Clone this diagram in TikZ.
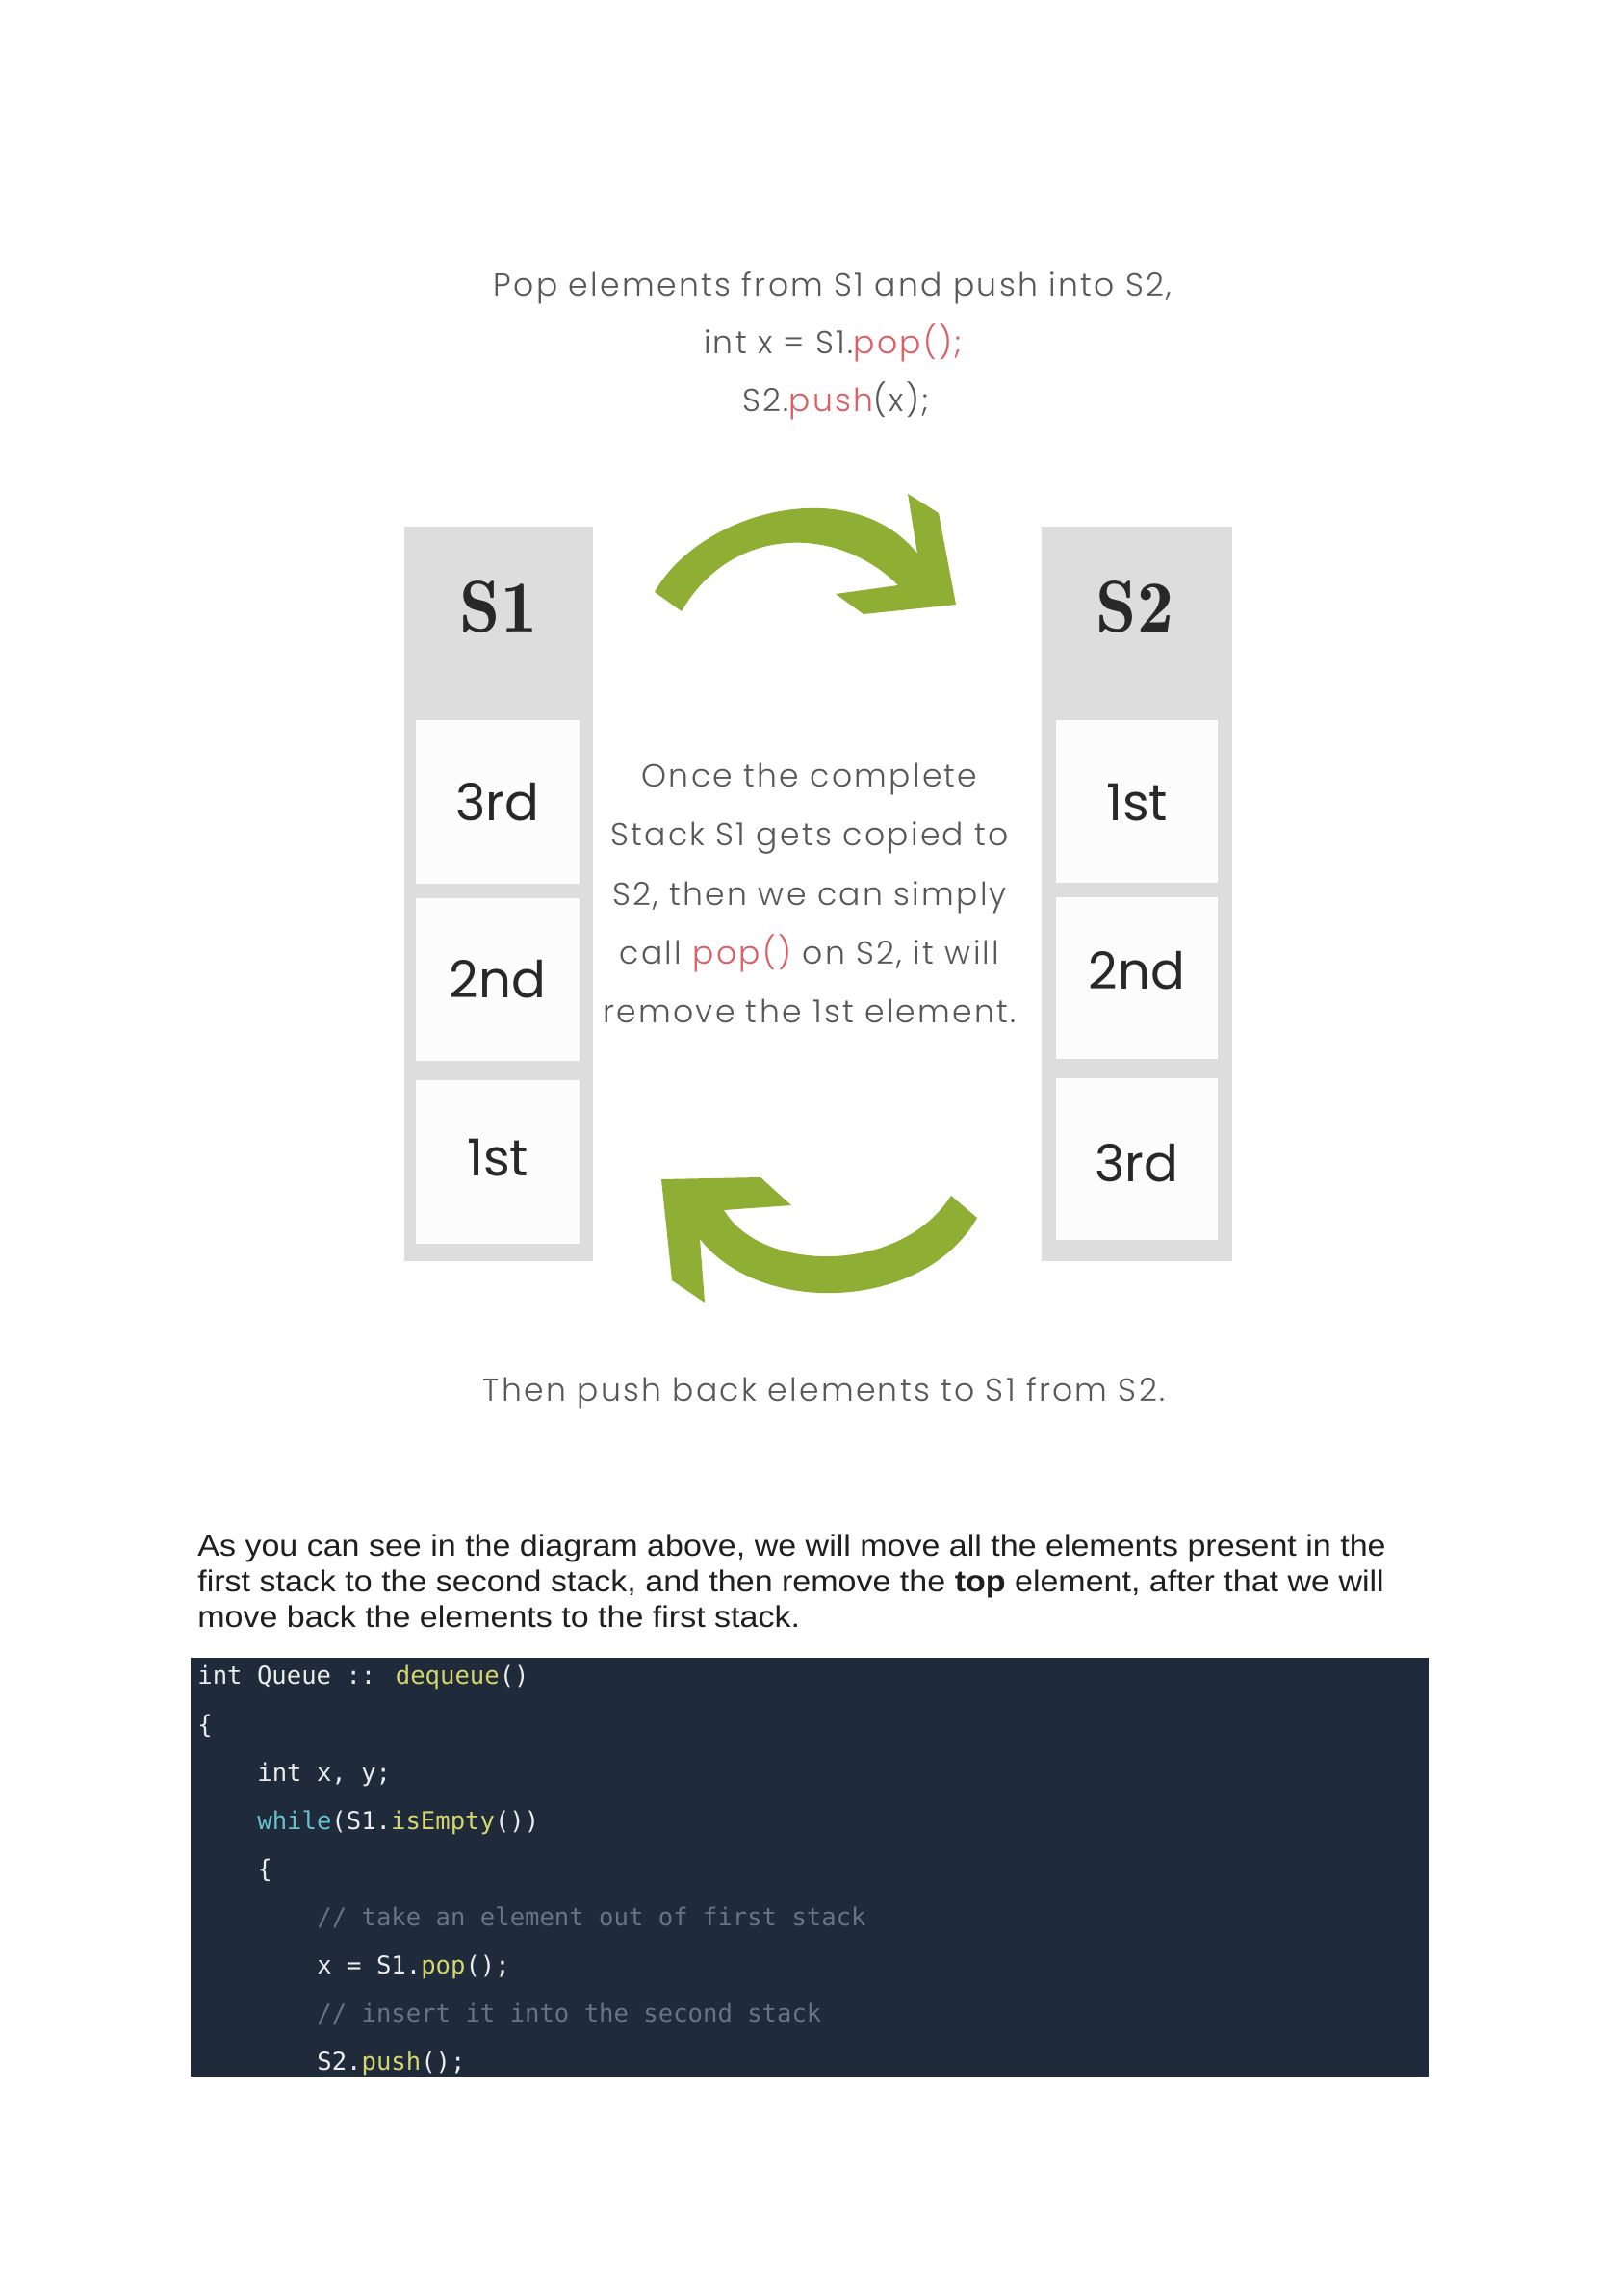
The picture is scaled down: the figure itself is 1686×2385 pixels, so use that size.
\documentclass[tikz,border=0pt]{standalone}
\usepackage{fontspec}
\newfontfamily\arialf{Liberation Sans}[FakeStretch=1.09]
\newfontfamily\josf{Poppins Light}[LetterSpace=7]
\newfontfamily\josr{Poppins}
\newfontfamily\codef{DejaVu Sans Mono}
\newfontfamily\lmdemi{lmromandemi10-regular.otf}
\definecolor{colgray}{RGB}{221,221,221}
\definecolor{boxwhite}{RGB}{252,252,252}
\definecolor{arrowgreen}{RGB}{143,174,52}
\definecolor{popred}{RGB}{222,92,98}
\definecolor{txtgray}{RGB}{88,88,88}
\definecolor{darktxt}{RGB}{40,40,40}
\definecolor{codebg}{RGB}{31,42,58}
\definecolor{codefg}{RGB}{236,236,236}
\definecolor{codeyel}{RGB}{214,214,110}
\definecolor{codecyan}{RGB}{102,194,205}
\definecolor{codecom}{RGB}{104,116,128}
\begin{document}
\begin{tikzpicture}[x=0.5pt,y=-0.5pt,
  hdr/.style={anchor=base,inner sep=0pt,text=txtgray,font=\josf\fontsize{16.5}{19}\selectfont},
  column/.style={fill=colgray,draw=none},
  cell/.style={fill=boxwhite,draw=none},
  celltxt/.style={anchor=center,inner sep=0pt,text=darktxt,font=\josr\fontsize{26.5}{30}\selectfont},
  stacklbl/.style={anchor=center,inner sep=0pt,text=darktxt,font=\lmdemi\fontsize{38}{40}\selectfont},
  para/.style={anchor=base west,inner sep=0pt,text=black!88,font=\arialf\fontsize{15.6}{18}\selectfont},
  code/.style={anchor=base west,inner sep=0pt,text=codefg,font=\codef\fontsize{12.8}{15}\selectfont},
  bigarrow/.style={fill=arrowgreen,draw=none}
]
\useasboundingbox (0,0) rectangle (1686,2385);
\fill[white] (0,0) rectangle (1686,2385);

% header
\node[hdr] (h1) at (865,308) {Pop elements from S1 and push into S2,};
\node[hdr] (h2) at (865,368) {int x = S1.\textcolor{popred}{pop();}};
\node[hdr] (h3) at (868,428) {S2.\textcolor{popred}{push}(x);};

% stacks
\fill[column] (420,547) rectangle (616,1310);
\fill[column] (1082,547) rectangle (1280,1310);
\fill[cell] (432,748) rectangle (602,918);
\fill[cell] (432,933) rectangle (602,1102);
\fill[cell] (432,1122) rectangle (602,1292);
\fill[cell] (1097,748) rectangle (1265,917);
\fill[cell] (1097,932) rectangle (1265,1100);
\fill[cell] (1097,1120) rectangle (1265,1288);

\node[stacklbl] (s1) at (518,630) {S1};
\node[stacklbl] (s2) at (1179,630) {S2};
\node[celltxt] (a3) at (517,833) {3rd};
\node[celltxt] (a2) at (517,1017) {2nd};
\node[celltxt] (a1) at (517,1203) {1st};
\node[celltxt] (b1) at (1181,834) {1st};
\node[celltxt] (b2) at (1181,1008) {2nd};
\node[celltxt] (b3) at (1181,1208) {3rd};

% centre text
\node[hdr] (c1) at (841,817) {Once the complete};
\node[hdr] (c2) at (841,878) {Stack S1 gets copied to};
\node[hdr] (c3) at (841,940) {S2, then we can simply};
\node[hdr] (c4) at (841,1001) {call \textcolor{popred}{pop()} on S2, it will};
\node[hdr] (c5) at (841,1062) {remove the 1st element.};

% arrows
\fill[bigarrow] (680,615) .. controls (728,530) and (885,490) .. (953,575)
  -- (943,513) -- (975,533) -- (993,628) -- (897,638) -- (868,617) -- (933,608)
  .. controls (870,545) and (760,545) .. (708,635) -- cycle;
\fill[bigarrow] (687,1225) -- (790,1223) -- (822,1252) -- (752,1257)
  .. controls (790,1322) and (935,1325) .. (988,1242) -- (1015,1265)
  .. controls (960,1362) and (790,1368) .. (727,1287) -- (732,1353) -- (698,1330) -- cycle;

\node[hdr] (bt) at (856,1455) {Then push back elements to S1 from S2.};

% paragraph
\node[para] (p1) at (205,1616) {As you can see in the diagram above, we will move all the elements present in the};
\node[para] (p2) at (205,1653) {first stack to the second stack, and then remove the \textbf{top} element, after that we will};
\node[para] (p3) at (205,1690) {move back the elements to the first stack.};

% code block
\fill[codebg] (198,1722) rectangle (1484,2157);
\node[code] (k1) at (205,1749) {int Queue :: \textcolor{codeyel}{dequeue}()};
\node[code] (k2) at (205,1800) {\{};
\node[code] (k3) at (267,1850) {int x, y;};
\node[code] (k4) at (267,1900) {\textcolor{codecyan}{while}(S1.\textcolor{codeyel}{isEmpty}())};
\node[code] (k5) at (267,1950) {\{};
\node[code,text=codecom] (k6) at (329,2000) {// take an element out of first stack};
\node[code] (k7) at (329,2050) {x = S1.\textcolor{codeyel}{pop}();};
\node[code,text=codecom] (k8) at (329,2100) {// insert it into the second stack};
\node[code] (k9) at (329,2150) {S2.\textcolor{codeyel}{push}();};
\end{tikzpicture}
\end{document}
